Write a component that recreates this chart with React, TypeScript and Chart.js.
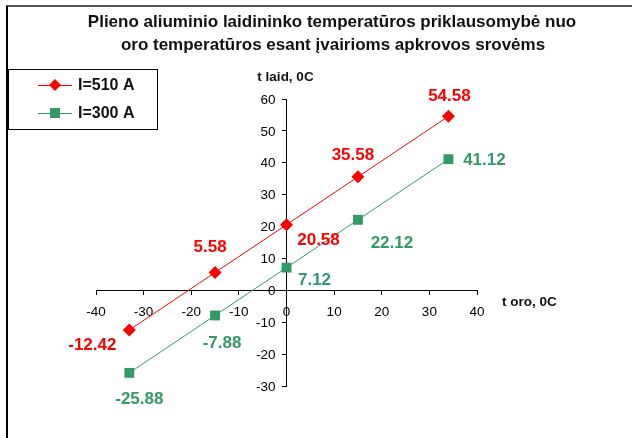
import React, { useEffect, useRef } from "react";
import { Chart, registerables } from "chart.js";

Chart.register(...registerables);

const titleLines = [
  "Plieno aliuminio laidininko temperatūros priklausomybė nuo",
  "oro temperatūros esant įvairioms apkrovos srovėms",
];
const xTitle = "t oro, 0C";
const yTitle = "t laid, 0C";
const seriesNames = ["I=510 A", "I=300 A"];
const airTemps = [-33, -15, 0, 15, 34];
const wire510 = [-12.42, 5.58, 20.58, 35.58, 54.58];
const wire300 = [-25.88, -7.88, 7.12, 22.12, 41.12];

const RED = "#FF0000";
const GREEN = "#339966";
const FONT = "'Liberation Sans', Arial, sans-serif";

// label placement offsets (layout only)
const labelOffsets = [
  [[-37, 15], [-5, -25], [32, 16], [-5, -22], [1, -20]],
  [[10, 26], [7, 28], [28, 13], [34, 24], [36, 1]],
];

const overlayPlugin = {
  id: "overlay",
  afterDatasetsDraw(chart: any) {
    const ctx = chart.ctx;
    ctx.save();
    const ys = chart.scales.y;
    const xs = chart.scales.x;
    const x0 = xs.getPixelForValue(0);
    const y0 = ys.getPixelForValue(0);
    // y tick labels
    ctx.font = `13.5px ${FONT}`;
    ctx.fillStyle = "#000";
    ctx.textAlign = "right";
    ctx.textBaseline = "middle";
    ys.ticks.forEach((t: any) => {
      ctx.fillText(String(t.value), x0 - 11, ys.getPixelForValue(t.value) + 1);
    });
    // data labels
    chart.data.datasets.forEach((ds: any, di: number) => {
      const meta = chart.getDatasetMeta(di);
      ctx.font = `bold 17px ${FONT}`;
      ctx.fillStyle = ds.borderColor;
      ctx.textAlign = "center";
      ctx.textBaseline = "middle";
      meta.data.forEach((pt: any, i: number) => {
        const [dx, dy] = labelOffsets[di][i];
        ctx.fillText(ds.data[i].y.toFixed(2), pt.x + dx, pt.y + dy);
      });
    });
    // title
    ctx.fillStyle = "#111";
    ctx.font = `bold 17px ${FONT}`;
    ctx.textAlign = "center";
    ctx.textBaseline = "middle";
    ctx.fillText(titleLines[0], 332, 22);
    ctx.fillText(titleLines[1], 333, 45);
    // axis titles
    ctx.font = `bold 13.5px ${FONT}`;
    ctx.fillText(yTitle, x0 - 1, ys.top - 22);
    ctx.textAlign = "left";
    ctx.fillText(xTitle, xs.right + 25, y0 + 12);
    // legend
    ctx.strokeStyle = "#000";
    ctx.lineWidth = 1;
    ctx.strokeRect(8.5, 69.5, 149, 60);
    chart.data.datasets.forEach((ds: any, di: number) => {
      const cy = 85 + di * 28;
      ctx.strokeStyle = ds.borderColor;
      ctx.lineWidth = 1;
      ctx.beginPath();
      ctx.moveTo(38, cy + 0.5);
      ctx.lineTo(72, cy + 0.5);
      ctx.stroke();
      ctx.fillStyle = ds.backgroundColor;
      ctx.beginPath();
      if (ds.pointStyle === "rectRot") {
        const r = 6;
        ctx.moveTo(55 - r, cy);
        ctx.lineTo(55, cy - r);
        ctx.lineTo(55 + r, cy);
        ctx.lineTo(55, cy + r);
        ctx.closePath();
      } else {
        ctx.rect(50, cy - 5, 10, 10);
      }
      ctx.fill();
      ctx.fillStyle = "#111";
      ctx.font = `bold 16px ${FONT}`;
      ctx.textAlign = "left";
      ctx.textBaseline = "middle";
      ctx.fillText(seriesNames[di], 78, cy + 1);
    });
    ctx.restore();
  },
};

export default function App() {
  const ref = useRef<HTMLCanvasElement | null>(null);
  useEffect(() => {
    if (!ref.current) return;
    const chart = new Chart(ref.current, {
      type: "scatter",
      data: {
        datasets: [
          {
            label: seriesNames[0],
            data: airTemps.map((x, i) => ({ x, y: wire510[i] })),
            borderColor: RED,
            backgroundColor: RED,
            showLine: true,
            borderWidth: 1,
            pointStyle: "rectRot",
            pointRadius: 6.5,
            pointBorderWidth: 0,
          },
          {
            label: seriesNames[1],
            data: airTemps.map((x, i) => ({ x, y: wire300[i] })),
            borderColor: GREEN,
            backgroundColor: GREEN,
            showLine: true,
            borderWidth: 1,
            pointStyle: "rect",
            pointRadius: 7,
            pointBorderWidth: 0,
          },
        ],
      },
      options: {
        animation: false,
        responsive: false,
        layout: { padding: { left: 96, right: 155, top: 99, bottom: 52 } },
        plugins: { legend: { display: false }, title: { display: false }, tooltip: { enabled: false } },
        scales: {
          x: {
            type: "linear",
            min: -40,
            max: 40,
            position: { y: 0 } as any,
            afterFit: (s: any) => { s.height = 0; },
            ticks: { stepSize: 10, color: "#000", padding: 10, font: { family: FONT, size: 13.5 } },
            grid: { drawOnChartArea: false, drawTicks: true, tickLength: 4, color: "#000" },
            border: { display: true, color: "#000", width: 1 },
          },
          y: {
            type: "linear",
            min: -30,
            max: 60,
            position: { x: 0 } as any,
            afterFit: (s: any) => { s.width = 0; },
            ticks: { stepSize: 10, display: false },
            grid: { drawOnChartArea: false, drawTicks: true, tickLength: 4, color: "#000" },
            border: { display: true, color: "#000", width: 1 },
          },
        },
      },
      plugins: [overlayPlugin],
    });
    return () => chart.destroy();
  }, []);
  return (
    <div style={{ position: "fixed", left: 0, top: 0, width: 632, height: 438, background: "#fff" }}>
      <div style={{ position: "absolute", left: 6, top: 5, width: 700, height: 500, borderLeft: "2px solid #000", borderTop: "2px solid #555" }} />
      <canvas ref={ref} width={632} height={438} style={{ position: "absolute", left: 0, top: 0 }} />
    </div>
  );
}
